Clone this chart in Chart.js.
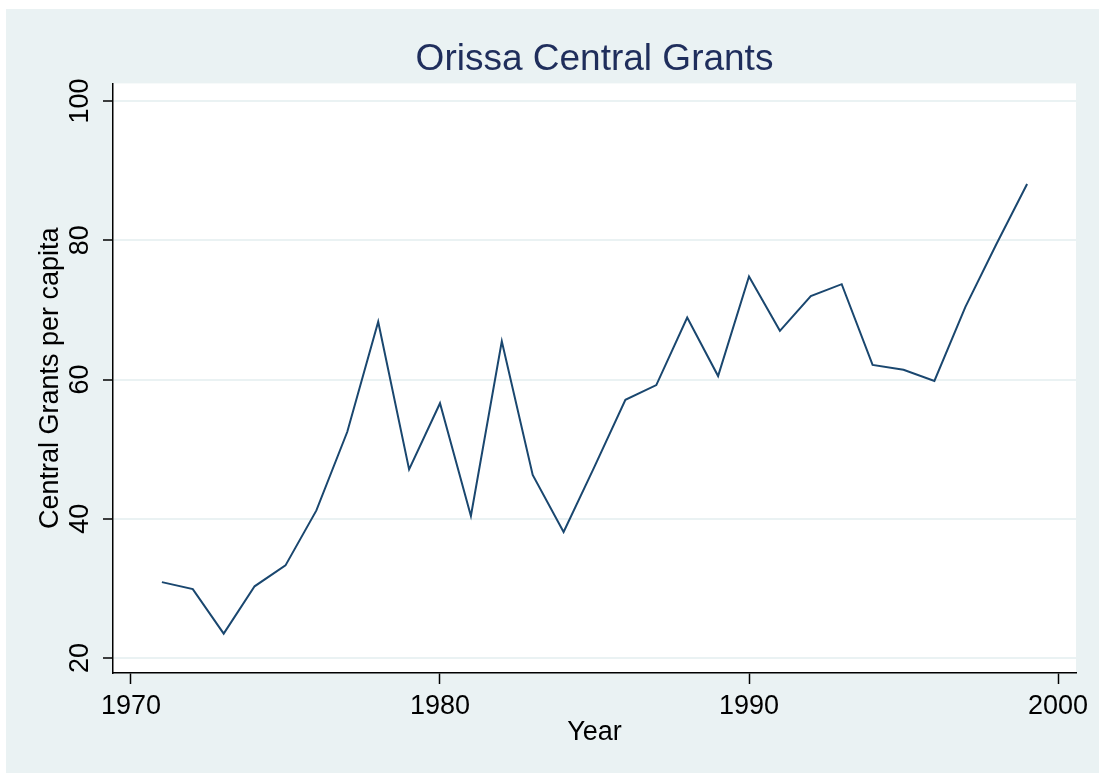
<!DOCTYPE html>
<html>
<head>
<meta charset="utf-8">
<title>Orissa Central Grants</title>
<script src="https://cdn.jsdelivr.net/npm/chart.js@4"></script>
<style>
  html, body { margin: 0; padding: 0; background: #fff; }
  #wrap { width: 1099px; height: 773px; }
</style>
</head>
<body>
<div id="wrap"><canvas id="grantsChart" width="1099" height="773"></canvas></div>
<script>
// Dados
const years = [1971, 1972, 1973, 1974, 1975, 1976, 1977, 1978, 1979, 1980,
               1981, 1982, 1983, 1984, 1985, 1986, 1987, 1988, 1989, 1990,
               1991, 1992, 1993, 1994, 1995, 1996, 1997, 1998, 1999];
const grants = [30.9, 29.9, 23.5, 30.3, 33.3, 41.2, 52.5, 68.3, 47.1, 56.6,
                40.4, 65.5, 46.3, 38.1, 47.5, 57.1, 59.2, 68.9, 60.5, 74.8,
                67.0, 72.0, 73.7, 62.1, 61.4, 59.8, 70.4, 79.4, 88.1];
const xTicks = [1970, 1980, 1990, 2000];
const yTicks = [20, 40, 60, 80, 100];

const FONT = "'Liberation Sans', Arial, sans-serif";
const BG = '#EAF2F3';

// Fundo estilo Stata
const backgroundPlugin = {
    id: 'stataBackground',
    beforeDraw(chart) {
        const { ctx, chartArea: a } = chart;
        ctx.save();
        ctx.fillStyle = '#ffffff';
        ctx.fillRect(0, 0, chart.width, chart.height);
        ctx.fillStyle = BG;
        ctx.fillRect(6, 9, chart.width - 6, chart.height - 9);
        ctx.fillStyle = '#ffffff';
        ctx.fillRect(a.left, a.top, a.right - a.left, a.bottom - a.top);
        ctx.restore();
    }
};

const ctx = document.getElementById('grantsChart').getContext('2d');

new Chart(ctx, {
    type: 'line',
    data: {
        datasets: [{
            label: 'Central Grants per capita',
            data: years.map((y, i) => ({ x: y, y: grants[i] })),
            borderColor: '#1A476F',
            borderWidth: 2,
            pointRadius: 0,
            tension: 0,
            fill: false
        }]
    },
    options: {
        responsive: false,
        animation: false,
        devicePixelRatio: 1,
        layout: { padding: { left: 0, right: 23, top: 0, bottom: 0 } },
        plugins: {
            legend: { display: false },
            tooltip: { enabled: false },
            title: {
                display: true,
                fullSize: false,
                text: 'Orissa Central Grants',
                color: '#1F2E5C',
                font: { family: FONT, size: 37, weight: 'normal' },
                padding: { top: 38, bottom: 1 }
            }
        },
        scales: {
            x: {
                type: 'linear',
                min: 1969.4175,
                max: 2000.5825,
                afterBuildTicks: (s) => { s.ticks = xTicks.map(v => ({ value: v })); },
                afterFit: (s) => { s.height = 100; },
                grid: {
                    drawOnChartArea: false,
                    tickColor: '#000',
                    tickLength: 11,
                    tickWidth: 1.5
                },
                border: { display: true, color: '#000', width: 1.5 },
                ticks: {
                    color: '#000',
                    padding: 6,
                    maxRotation: 0,
                    callback: (v) => String(v),
                    font: { family: FONT, size: 27 }
                },
                title: {
                    display: true,
                    text: 'Year',
                    color: '#000',
                    font: { family: FONT, size: 27 },
                    padding: { top: 0, bottom: 24 }
                }
            },
            y: {
                type: 'linear',
                min: 17.847,
                max: 102.54,
                afterBuildTicks: (s) => { s.ticks = yTicks.map(v => ({ value: v })); },
                afterFit: (s) => { s.width = 113; },
                grid: {
                    color: BG,
                    lineWidth: 2,
                    tickColor: '#000',
                    tickLength: 10,
                    tickWidth: 1.5
                },
                border: { display: true, color: '#000', width: 1.5 },
                ticks: {
                    color: '#000',
                    padding: 0,
                    minRotation: 90,
                    maxRotation: 90,
                    crossAlign: 'center',
                    callback: (v) => String(v),
                    font: { family: FONT, size: 27 }
                },
                title: {
                    display: true,
                    text: 'Central Grants per capita',
                    color: '#000',
                    font: { family: FONT, size: 27 },
                    padding: { top: 34, bottom: 0 }
                }
            }
        }
    },
    plugins: [backgroundPlugin]
});
</script>
</body>
</html>
